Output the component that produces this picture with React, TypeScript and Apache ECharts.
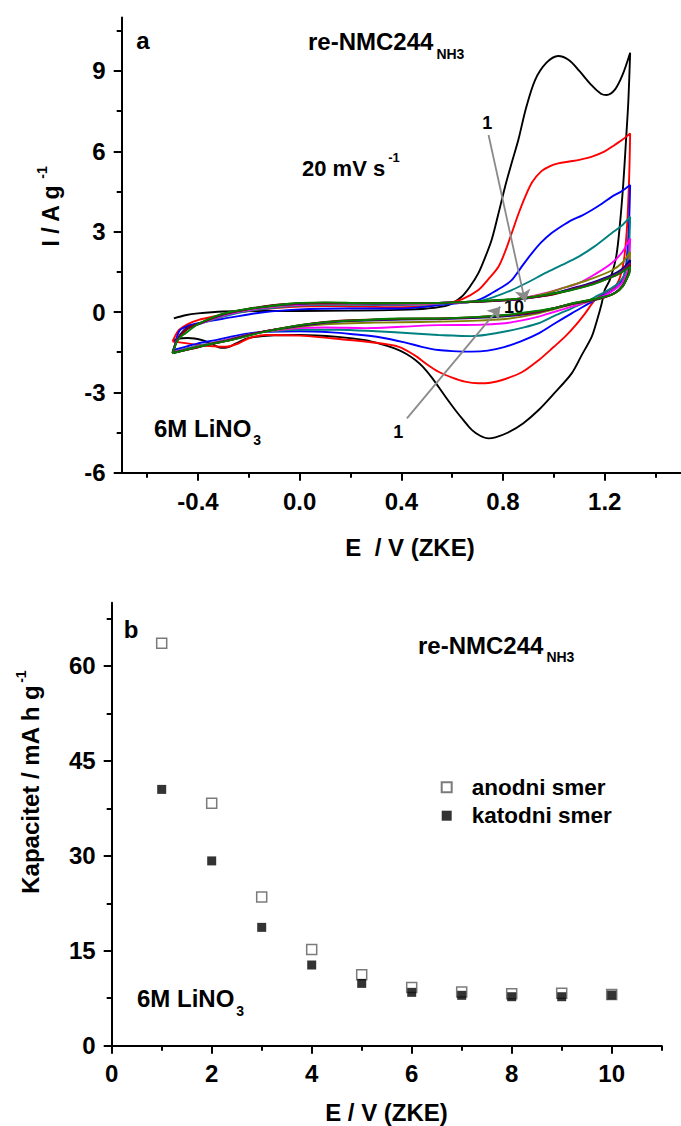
import React, { useEffect, useRef } from "react";
import * as echarts from "echarts";

const FONT = "'Liberation Sans', Arial, Helvetica, sans-serif";

// ---------- Panel a: cyclic voltammograms (E / V, I / A g-1) ----------
const cycle1 = [
  [-0.495, -0.24], [-0.45, -0.12], [-0.4, -0.05], [-0.3, 0.02], [-0.15, 0.04], [0, 0.04], [0.2, 0.05],
  [0.39, 0.08], [0.5, 0.13], [0.585, 0.26], [0.637, 0.57], [0.67, 0.95], [0.703, 1.45], [0.73, 2.05],
  [0.755, 2.69], [0.78, 3.6], [0.808, 4.68], [0.835, 5.6], [0.86, 6.42], [0.89, 7.6], [0.926, 8.66],
  [0.97, 9.3], [1.017, 9.56], [1.06, 9.4], [1.1, 9.0], [1.15, 8.45], [1.185, 8.15], [1.207, 8.1],
  [1.24, 8.3], [1.27, 8.85], [1.3, 9.68],
  [1.293, 7.9], [1.283, 6.3], [1.273, 4.8], [1.26, 3.3], [1.245, 2.06], [1.22, 1.2], [1.2, 0.82],
  [1.188, 0.32], [1.17, -0.3], [1.149, -0.92], [1.11, -1.6], [1.07, -2.29], [1.0, -3.05], [0.94, -3.66],
  [0.88, -4.15], [0.82, -4.5], [0.77, -4.68], [0.743, -4.72], [0.71, -4.62], [0.677, -4.4], [0.645, -4.05],
  [0.612, -3.66], [0.58, -3.25], [0.546, -2.79], [0.52, -2.45], [0.485, -2.05], [0.455, -1.79], [0.42, -1.57],
  [0.39, -1.42], [0.32, -1.2], [0.258, -1.05], [0.15, -0.93], [0, -0.86], [-0.1, -0.87], [-0.2, -0.97],
  [-0.25, -1.17], [-0.28, -1.31], [-0.31, -1.34], [-0.34, -1.22], [-0.38, -1.06], [-0.44, -0.97],
  [-0.48, -1.0], [-0.495, -1.07],
];
const cycle2 = [
  [-0.5, -1.1], [-0.49, -0.9], [-0.475, -0.67], [-0.44, -0.45], [-0.4, -0.3], [-0.33, -0.15], [-0.27, -0.05],
  [-0.15, 0.1], [0, 0.2], [0.1, 0.22], [0.25, 0.2], [0.4, 0.18], [0.5, 0.22], [0.585, 0.33], [0.64, 0.48],
  [0.703, 0.82], [0.74, 1.2], [0.782, 1.69], [0.81, 2.3], [0.834, 2.94], [0.86, 3.65], [0.887, 4.3],
  [0.915, 4.85], [0.95, 5.25], [0.985, 5.45], [1.017, 5.55], [1.06, 5.62], [1.1, 5.68], [1.15, 5.8],
  [1.2, 6.0], [1.23, 6.18], [1.265, 6.4], [1.3, 6.67],
  [1.297, 5.3], [1.292, 4.0], [1.286, 2.94], [1.275, 1.9], [1.26, 1.3], [1.24, 0.95], [1.2, 0.72],
  [1.162, 0.45], [1.123, -0.05], [1.085, -0.5], [1.044, -0.92], [1.0, -1.3], [0.94, -1.8], [0.874, -2.25],
  [0.8, -2.53], [0.75, -2.64], [0.703, -2.66], [0.65, -2.6], [0.6, -2.45], [0.546, -2.23], [0.5, -1.95],
  [0.45, -1.6], [0.39, -1.3], [0.3, -1.15], [0.126, -0.98], [0, -0.88], [-0.135, -0.86], [-0.2, -0.98],
  [-0.24, -1.17], [-0.29, -1.3], [-0.34, -1.28], [-0.4, -1.23], [-0.45, -1.16], [-0.5, -1.1],
];
const cycle3 = [
  [-0.495, -1.42], [-0.485, -1.0], [-0.47, -0.67], [-0.44, -0.52], [-0.4, -0.42], [-0.33, -0.3],
  [-0.27, -0.2], [-0.15, -0.02], [0, 0.1], [0.2, 0.13], [0.39, 0.13], [0.5, 0.2], [0.585, 0.3],
  [0.677, 0.38], [0.72, 0.52], [0.755, 0.7], [0.8, 0.95], [0.834, 1.19], [0.87, 1.65], [0.913, 2.19],
  [0.95, 2.6], [0.99, 2.94], [1.03, 3.2], [1.07, 3.43], [1.11, 3.6], [1.148, 3.8], [1.19, 4.05],
  [1.227, 4.3], [1.265, 4.5], [1.3, 4.74],
  [1.296, 3.4], [1.29, 2.4], [1.28, 1.5], [1.26, 1.05], [1.23, 0.8], [1.19, 0.6], [1.149, 0.38],
  [1.11, 0.17], [1.07, -0.05], [1.0, -0.45], [0.94, -0.8], [0.87, -1.1], [0.808, -1.3], [0.74, -1.44],
  [0.677, -1.48], [0.6, -1.46], [0.546, -1.42], [0.48, -1.3], [0.42, -1.15], [0.32, -0.95], [0.2, -0.82],
  [0.126, -0.76], [0, -0.72], [-0.135, -0.74], [-0.2, -0.8], [-0.27, -0.92], [-0.33, -1.05], [-0.4, -1.17],
  [-0.45, -1.3], [-0.495, -1.42],
];
const cycle4 = [
  [-0.5, -1.48], [-0.485, -1.1], [-0.47, -0.85], [-0.44, -0.62], [-0.4, -0.47], [-0.3, -0.17],
  [-0.2, 0.04], [-0.1, 0.16], [0, 0.24], [0.1, 0.27], [0.3, 0.26], [0.5, 0.28], [0.6, 0.33],
  [0.703, 0.4], [0.77, 0.58], [0.834, 0.82], [0.9, 1.12], [0.965, 1.45], [1.03, 1.75], [1.096, 2.06],
  [1.16, 2.45], [1.227, 2.94], [1.27, 3.25], [1.3, 3.56],
  [1.297, 2.7], [1.29, 1.9], [1.275, 1.35], [1.25, 1.05], [1.21, 0.8], [1.16, 0.55], [1.12, 0.35],
  [1.07, 0.14], [1.0, -0.15], [0.94, -0.42], [0.87, -0.6], [0.808, -0.73], [0.74, -0.84], [0.677, -0.9],
  [0.6, -0.88], [0.546, -0.86], [0.45, -0.8], [0.3, -0.72], [0.15, -0.66], [0, -0.66], [-0.135, -0.74],
  [-0.2, -0.84], [-0.27, -0.99], [-0.35, -1.16], [-0.42, -1.3], [-0.5, -1.48],
];
const cycle5 = [
  [-0.5, -1.5], [-0.485, -1.1], [-0.47, -0.85], [-0.44, -0.6], [-0.4, -0.46], [-0.3, -0.13],
  [-0.2, 0.07], [-0.1, 0.19], [0, 0.27], [0.1, 0.3], [0.3, 0.29], [0.5, 0.3], [0.6, 0.34], [0.7, 0.39],
  [0.834, 0.46], [0.9, 0.56], [0.965, 0.7], [1.03, 0.88], [1.096, 1.07], [1.16, 1.4], [1.227, 1.82],
  [1.27, 2.25], [1.3, 2.75],
  [1.297, 2.05], [1.29, 1.55], [1.27, 1.12], [1.24, 0.85], [1.2, 0.62], [1.14, 0.4], [1.07, 0.2],
  [1.0, 0.0], [0.94, -0.17], [0.87, -0.32], [0.808, -0.42], [0.7, -0.48], [0.546, -0.49], [0.4, -0.55],
  [0.258, -0.6], [0.1, -0.58], [0, -0.6], [-0.135, -0.73], [-0.2, -0.85], [-0.27, -1.0], [-0.35, -1.17],
  [-0.42, -1.32], [-0.5, -1.5],
];
const cycle6 = [
  [-0.5, -1.52], [-0.485, -1.12], [-0.47, -0.85], [-0.44, -0.58], [-0.4, -0.45], [-0.3, -0.1],
  [-0.2, 0.1], [-0.1, 0.22], [0, 0.3], [0.1, 0.32], [0.3, 0.31], [0.5, 0.32], [0.6, 0.35], [0.7, 0.38],
  [0.834, 0.45], [0.94, 0.63], [1.0, 0.78], [1.07, 1.0], [1.15, 1.25], [1.227, 1.55], [1.27, 1.85],
  [1.3, 2.25],
  [1.297, 1.75], [1.29, 1.4], [1.27, 1.0], [1.24, 0.72], [1.2, 0.55], [1.14, 0.4], [1.07, 0.28],
  [1.0, 0.1], [0.94, -0.05], [0.87, -0.18], [0.808, -0.26], [0.7, -0.32], [0.546, -0.36], [0.4, -0.38],
  [0.2, -0.42], [0.1, -0.46], [0, -0.55], [-0.135, -0.73], [-0.2, -0.85], [-0.27, -1.02], [-0.35, -1.18],
  [-0.42, -1.33], [-0.5, -1.52],
];
const cycle7 = [
  [-0.5, -1.52], [-0.485, -1.12], [-0.47, -0.85], [-0.44, -0.56], [-0.4, -0.44], [-0.3, -0.09],
  [-0.2, 0.11], [-0.1, 0.24], [0, 0.31], [0.1, 0.33], [0.3, 0.32], [0.5, 0.33], [0.6, 0.36], [0.7, 0.39],
  [0.834, 0.45], [0.94, 0.58], [1.0, 0.7], [1.07, 0.88], [1.15, 1.1], [1.227, 1.38], [1.27, 1.62],
  [1.3, 1.94],
  [1.297, 1.6], [1.29, 1.35], [1.27, 0.98], [1.24, 0.72], [1.2, 0.56], [1.14, 0.42], [1.07, 0.3],
  [1.0, 0.14], [0.94, 0.0], [0.87, -0.1], [0.808, -0.16], [0.7, -0.22], [0.546, -0.27], [0.4, -0.28],
  [0.2, -0.34], [0.1, -0.4], [0, -0.52], [-0.135, -0.72], [-0.2, -0.85], [-0.27, -1.03], [-0.35, -1.2],
  [-0.42, -1.35], [-0.5, -1.53],
];
const cycle8 = [
  [-0.5, -1.53], [-0.485, -1.13], [-0.47, -0.88], [-0.44, -0.6], [-0.4, -0.45], [-0.3, -0.08],
  [-0.2, 0.11], [-0.1, 0.25], [0, 0.32], [0.1, 0.34], [0.3, 0.33], [0.5, 0.33], [0.6, 0.36], [0.7, 0.39],
  [0.834, 0.46], [0.94, 0.57], [1.0, 0.67], [1.07, 0.85], [1.15, 1.06], [1.227, 1.33], [1.27, 1.55],
  [1.3, 1.82],
  [1.297, 1.52], [1.29, 1.32], [1.27, 0.96], [1.24, 0.71], [1.2, 0.56], [1.14, 0.43], [1.07, 0.31],
  [1.0, 0.14], [0.94, 0.02], [0.87, -0.08], [0.808, -0.13], [0.7, -0.2], [0.546, -0.25], [0.4, -0.26],
  [0.2, -0.32], [0.1, -0.38], [0, -0.5], [-0.135, -0.72], [-0.2, -0.86], [-0.27, -1.04], [-0.35, -1.2],
  [-0.42, -1.36], [-0.5, -1.53],
];
const cycle9 = [
  [-0.5, -1.53], [-0.485, -1.14], [-0.47, -0.9], [-0.44, -0.62], [-0.4, -0.45], [-0.3, -0.07],
  [-0.2, 0.12], [-0.1, 0.26], [0, 0.33], [0.1, 0.35], [0.3, 0.33], [0.5, 0.33], [0.6, 0.36], [0.7, 0.39],
  [0.834, 0.47], [0.94, 0.58], [1.0, 0.66], [1.07, 0.83], [1.15, 1.03], [1.227, 1.3], [1.27, 1.5],
  [1.3, 1.75],
  [1.297, 1.48], [1.29, 1.3], [1.27, 0.95], [1.24, 0.7], [1.2, 0.56], [1.14, 0.44], [1.07, 0.31],
  [1.0, 0.14], [0.94, 0.03], [0.87, -0.07], [0.808, -0.12], [0.7, -0.19], [0.546, -0.24], [0.4, -0.25],
  [0.2, -0.31], [0.1, -0.37], [0, -0.49], [-0.135, -0.72], [-0.2, -0.87], [-0.27, -1.04], [-0.35, -1.2],
  [-0.42, -1.37], [-0.5, -1.53],
];
const cycle10 = [
  [-0.5, -1.54], [-0.485, -1.15], [-0.47, -0.95], [-0.45, -0.8], [-0.4, -0.45], [-0.33, -0.15],
  [-0.27, 0.01], [-0.2, 0.12], [-0.135, 0.2], [-0.05, 0.3], [0, 0.34], [0.1, 0.36], [0.26, 0.33],
  [0.4, 0.33], [0.546, 0.34], [0.62, 0.37], [0.7, 0.4], [0.874, 0.51], [0.97, 0.64], [1.07, 0.82],
  [1.15, 1.02], [1.2, 1.2], [1.25, 1.4], [1.3, 1.69],
  [1.297, 1.45], [1.29, 1.3], [1.27, 0.95], [1.24, 0.7], [1.2, 0.57], [1.14, 0.45], [1.07, 0.32],
  [1.0, 0.14], [0.9, 0.0], [0.808, -0.11], [0.7, -0.18], [0.546, -0.24], [0.39, -0.24], [0.25, -0.3],
  [0.126, -0.36], [0, -0.49], [-0.135, -0.73], [-0.2, -0.88], [-0.27, -1.05], [-0.35, -1.2],
  [-0.4, -1.3], [-0.45, -1.42], [-0.5, -1.54],
];
const cycles = [cycle1, cycle2, cycle3, cycle4, cycle5, cycle6, cycle7, cycle8, cycle9, cycle10];
const cycleNames = ["ciklus 1", "ciklus 2", "ciklus 3", "ciklus 4", "ciklus 5", "ciklus 6", "ciklus 7", "ciklus 8", "ciklus 9", "ciklus 10"];
const cycleColors = ["#000000", "#ff0000", "#0000ff", "#008080", "#ff00ff", "#808000", "#000080", "#800080", "#800000", "#008000"];

// arrows "1 -> 10" in data coordinates [E, I]
const arrowAnodic = [[0.743, 6.61], [0.887, 0.38]];
const arrowCathodic = [[0.422, -3.97], [0.789, 0.2]];

const xTicksA = [-0.4, 0, 0.4, 0.8, 1.2];
const xMinorA = [-0.6, -0.2, 0.2, 0.6, 1.0, 1.4];
const yTicksA = [-6, -3, 0, 3, 6, 9];
const yMinorA = [-4.5, -1.5, 1.5, 4.5, 7.5, 10.5];

// ---------- Panel b: capacity vs cycle ----------
const cycleNumbers = [1, 2, 3, 4, 5, 6, 7, 8, 9, 10];
const anodniSmer = [63.6, 38.3, 23.5, 15.2, 11.2, 9.2, 8.5, 8.2, 8.3, 8.1];
const katodniSmer = [40.5, 29.2, 18.7, 12.75, 9.85, 8.43, 7.96, 7.74, 7.74, 8.0];

const xTicksB = [0, 2, 4, 6, 8, 10];
const xMinorB = [1, 3, 5, 7, 9, 11];
const yTicksB = [0, 15, 30, 45, 60];
const yMinorB = [7.5, 22.5, 37.5, 52.5, 67.5];

const labelFont = { fontFamily: FONT, fontWeight: "bold", fontSize: 24, color: "#000" };

function axisPair(kind: "x" | "y", grid: number, min: number, max: number, majors: number[], minors: number[], fmt: (v: number) => string, margin: number) {
  const position = kind === "x" ? "bottom" : "left";
  const major = {
    gridIndex: grid, type: "value", min, max, position,
    axisLine: { show: true, onZero: false, lineStyle: { color: "#000", width: 2 } },
    axisTick: { show: true, inside: false, length: 8, customValues: majors, lineStyle: { color: "#000", width: 2 } },
    axisLabel: { show: true, customValues: majors, formatter: fmt, margin, ...labelFont },
    splitLine: { show: false },
  };
  const minor = {
    gridIndex: grid, type: "value", min, max, position,
    axisLine: { show: false, onZero: false },
    axisTick: { show: true, inside: false, length: 5, customValues: minors, lineStyle: { color: "#000", width: 2 } },
    axisLabel: { show: false },
    splitLine: { show: false },
  };
  return [major, minor];
}

let measureCtx: CanvasRenderingContext2D | null = null;
function measure(text: string, size: number) {
  if (!measureCtx) measureCtx = document.createElement("canvas").getContext("2d");
  if (!measureCtx) return text.length * size * 0.55;
  measureCtx.font = `bold ${size}px ${FONT}`;
  return measureCtx.measureText(text).width;
}

function txt(x: number, y: number, text: string, size: number, align = "left", rotation = 0) {
  return {
    type: "text", x, y, rotation, silent: true,
    style: { text, fontFamily: FONT, fontWeight: "bold", fontSize: size, fill: "#000", align, verticalAlign: "middle" },
  };
}

// main text with a small sub/superscript following it (horizontal)
function withIndex(x: number, y: number, main: string, size: number, idx: string, idxSize: number, dy: number, gap: number) {
  const w = measure(main, size);
  return [txt(x, y, main, size), txt(x + w + gap, y + dy, idx, idxSize)];
}
// rotated (reading bottom to top) text centred at (cx, cy), superscript placed after its end
function rotatedWithSup(cx: number, cy: number, main: string, size: number, sup: string, supSize: number, dx: number, gap: number) {
  const w = measure(main, size);
  const sw = measure(sup, supSize);
  return [
    txt(cx, cy, main, size, "center", Math.PI / 2),
    txt(cx + dx, cy - w / 2 - gap - sw / 2, sup, supSize, "center", Math.PI / 2),
  ];
}

export default function App() {
  const ref = useRef<HTMLDivElement>(null);
  useEffect(() => {
    document.body.style.margin = "0";
    if (!ref.current) return;
    const chart = echarts.init(ref.current, undefined, { renderer: "svg" });

    const lineSeries = cycles.map((c, i) => ({
      name: cycleNames[i], type: "line", xAxisIndex: 0, yAxisIndex: 0, data: c,
      showSymbol: false, symbol: "none", smooth: 0.3, clip: true,
      lineStyle: { color: cycleColors[i], width: 1.9 }, itemStyle: { color: cycleColors[i] },
      silent: true, z: 2 + i,
      ...(i === cycles.length - 1
        ? {
            markLine: {
              silent: true, symbol: ["none", "arrow"], symbolSize: 12,
              label: { show: false },
              lineStyle: { color: "#8a8a8a", width: 1.8, type: "solid" },
              itemStyle: { color: "#8a8a8a" },
              emphasis: { disabled: true },
              z: 20,
              data: [
                [{ coord: arrowAnodic[0] }, { coord: arrowAnodic[1] }],
                [{ coord: arrowCathodic[0] }, { coord: arrowCathodic[1] }],
              ],
            },
          }
        : {}),
    }));

    const [xa, xam] = axisPair("x", 0, -0.7, 1.5, xTicksA, xMinorA, (v) => v.toFixed(1), 17);
    const [ya, yam] = axisPair("y", 0, -6, 11, yTicksA, yMinorA, (v) => String(v), 16);
    const [xb, xbm] = axisPair("x", 1, 0, 11, xTicksB, xMinorB, (v) => String(v), 16);
    const [yb, ybm] = axisPair("y", 1, 0, 70, yTicksB, yMinorB, (v) => String(v), 16);

    chart.setOption({
      animation: false,
      backgroundColor: "#fff",
      grid: [
        { left: 121.7, top: 17.4, width: 560, height: 455.3, containLabel: false },
        { left: 111.7, top: 602.7, width: 550, height: 443, containLabel: false },
      ],
      xAxis: [xa, xam, xb, xbm],
      yAxis: [ya, yam, yb, ybm],
      legend: {
        data: ["anodni smer", "katodni smer"],
        orient: "vertical", left: 440.7, top: 775.3, padding: 0, itemWidth: 10, itemHeight: 10, itemGap: 4.4,
        selectedMode: false,
        textStyle: { fontFamily: FONT, fontWeight: "bold", fontSize: 22.5, color: "#000", lineHeight: 24, padding: [0, 0, 0, 15] },
      },
      series: [
        ...lineSeries,
        {
          name: "anodni smer", type: "scatter", xAxisIndex: 2, yAxisIndex: 2,
          data: cycleNumbers.map((n, i) => [n, anodniSmer[i]]),
          symbol: "rect", symbolSize: 10, silent: true,
          itemStyle: { color: "#ffffff", borderColor: "#5a5a5a", borderWidth: 1.5 }, z: 3,
        },
        {
          name: "katodni smer", type: "scatter", xAxisIndex: 2, yAxisIndex: 2,
          data: cycleNumbers.map((n, i) => [n, katodniSmer[i]]),
          symbol: "rect", symbolSize: 9, silent: true,
          itemStyle: { color: "#000000" }, z: 4,
        },
      ],
      graphic: [
        // panel a
        txt(143, 40, "a", 24, "center"),
        ...withIndex(308, 41.5, "re-NMC244", 24, "NH3", 14, 12, 3),
        ...withIndex(302, 168.6, "20 mV s", 22, "-1", 13, -11, 3),
        ...withIndex(154, 428, "6M LiNO", 24, "3", 14, 12, 2),
        txt(487.3, 123.3, "1", 18, "center"),
        txt(514, 307, "10", 18, "center"),
        txt(398.3, 431.7, "1", 18, "center"),
        txt(410, 547, "E  / V (ZKE)", 24, "center"),
        ...rotatedWithSup(51, 216, "I / A g", 23, "-1", 14, -9, 6),
        // panel b
        txt(131, 629, "b", 24, "center"),
        ...withIndex(418, 645, "re-NMC244", 24, "NH3", 14, 12, 3),
        ...withIndex(137, 998, "6M LiNO", 24, "3", 14, 13, 2),
        txt(386.5, 1112, "E / V (ZKE)", 24, "center"),
        ...rotatedWithSup(30, 789.5, "Kapacitet / mA h g", 24, "-1", 14, -9, 2),
      ],
    });
    return () => chart.dispose();
  }, []);
  return <div ref={ref} style={{ width: 681, height: 1126 }} />;
}
